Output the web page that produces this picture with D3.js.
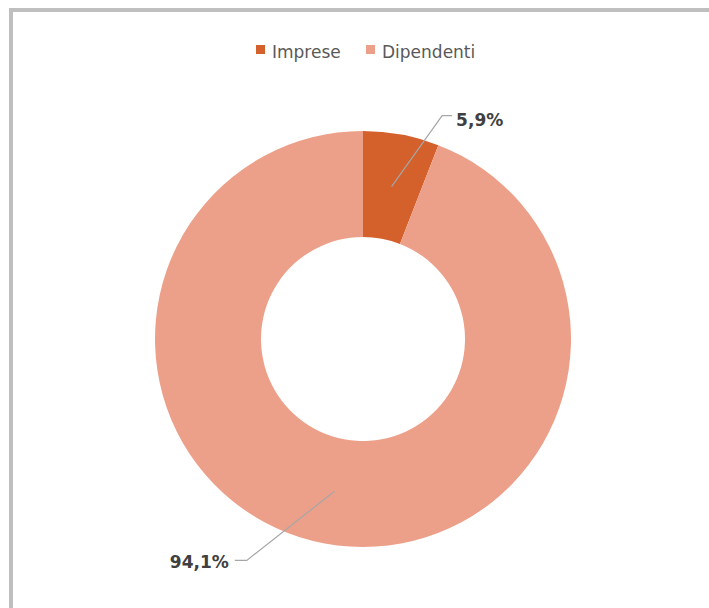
<!DOCTYPE html>
<html><head><meta charset="utf-8">
<script src="https://cdn.jsdelivr.net/npm/d3@7"></script>
<style>html,body{margin:0;padding:0;background:#fff;}svg{display:block;}</style>
</head><body>
<script>
const categories = ["Imprese", "Dipendenti"];
const values = [5.9, 94.1];
const labels = ["5,9%", "94,1%"];
const colors = ["#d4602c", "#eca089"];

const W = 709, H = 608;
const svg = d3.select("body").append("svg").attr("width", W).attr("height", H);

// frame
svg.append("rect").attr("x", 11).attr("y", 10).attr("width", W + 20).attr("height", H + 20)
  .attr("fill", "#fff").attr("stroke", "#bfbfbf").attr("stroke-width", 4);

const cx = 363, cy = 339, rOut = 208, rIn = 102;
const g = svg.append("g").attr("transform", `translate(${cx},${cy})`);

const pie = d3.pie().sort(null).value(d => d)(values);
const arc = d3.arc().innerRadius(rIn).outerRadius(rOut);

g.selectAll("path.slice").data(pie).enter().append("path")
  .attr("class", "slice").attr("d", arc)
  .attr("fill", (d, i) => colors[i]);

// leader lines and labels
const mid = d3.arc().innerRadius(155).outerRadius(155);
const elbowR = [237, 250];
const elbowA = [19.5, 207.7];
const horiz = [10, -12];
const textGap = [4, -6];
const baseOff = [10, 8];
pie.forEach((d, i) => {
  const [x0, y0] = mid.centroid(d);
  const a = elbowA[i] * Math.PI / 180;
  const x1 = elbowR[i] * Math.sin(a), y1 = -elbowR[i] * Math.cos(a);
  const x2 = x1 + horiz[i];
  g.append("polyline").attr("points", `${x0},${y0} ${x1},${y1} ${x2},${y1}`)
    .attr("fill", "none").attr("stroke", "#a6a6a6").attr("stroke-width", 1.2);
  g.append("text").attr("x", x2 + textGap[i]).attr("y", y1 + baseOff[i])
    .attr("text-anchor", horiz[i] > 0 ? "start" : "end")
    .attr("font-family", "DejaVu Sans, sans-serif")
    .attr("font-weight", "bold").attr("font-size", 17).attr("fill", "#404040")
    .text(labels[i]);
});

// legend
const legend = svg.append("g").attr("font-family", "DejaVu Sans, sans-serif").attr("font-size", 17).attr("fill", "#595959");
const legX = [256, 366];
categories.forEach((c, i) => {
  legend.append("rect").attr("x", legX[i]).attr("y", 45).attr("width", 9).attr("height", 9).attr("fill", colors[i]);
  legend.append("text").attr("x", legX[i] + 16).attr("y", 58).text(c);
});
</script>
</body></html>
